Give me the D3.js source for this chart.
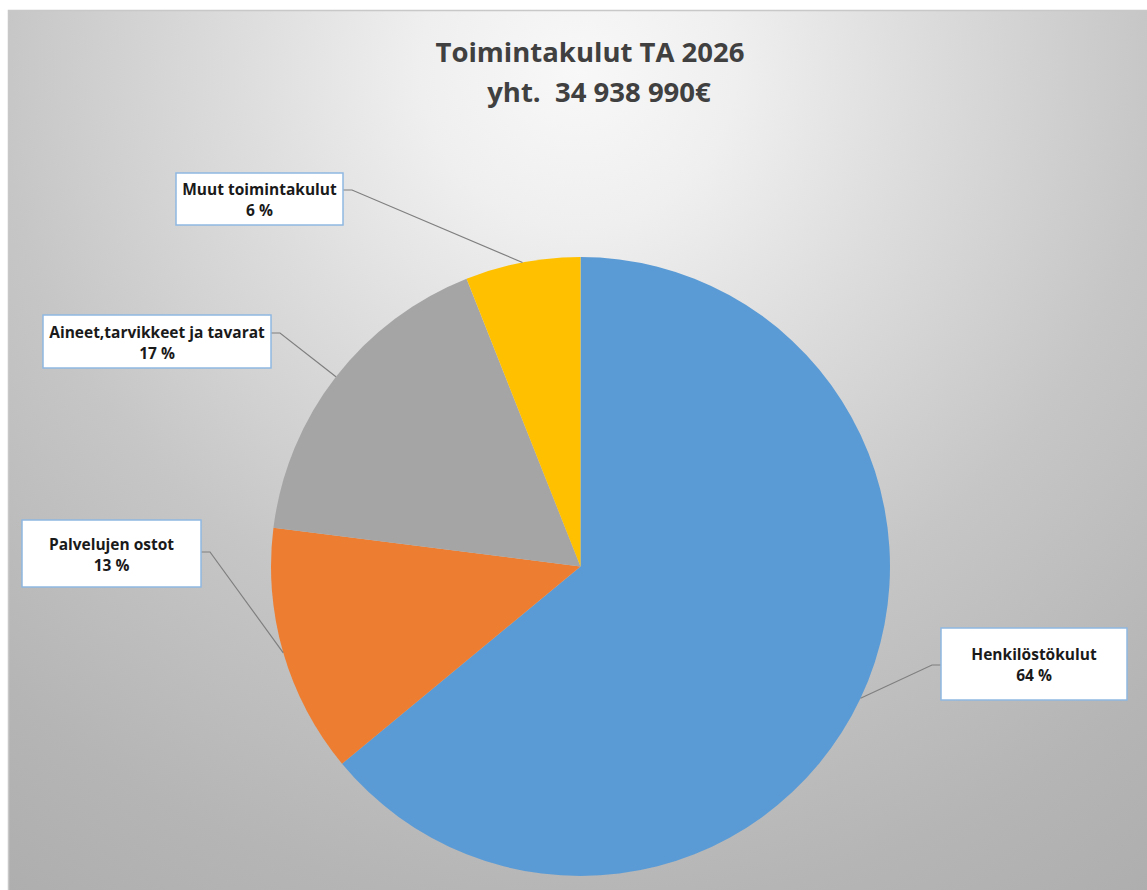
<!DOCTYPE html>
<html>
<head>
<meta charset="utf-8">
<script src="https://cdn.jsdelivr.net/npm/d3@7/dist/d3.min.js"></script>
<style>
  html, body { margin: 0; padding: 0; background: #fff; }
  svg { display: block; }
  .lbl text { font-family: "Open Sans", Lato, sans-serif; font-weight: 700; font-size: 15.5px; fill: #1a1a1a; }
  .title { font-family: "Open Sans", Lato, sans-serif; font-weight: 700; font-size: 27.5px; fill: #404040; white-space: pre; }
</style>
</head>
<body>
<svg width="1147" height="890"></svg>
<script>
// data
const categories = ["Henkilöstökulut", "Palvelujen ostot", "Aineet,tarvikkeet ja tavarat", "Muut toimintakulut"];
const shares = [64, 13, 17, 6];
const colors = ["#5b9bd5", "#ed7d31", "#a5a5a5", "#ffc000"];
const titleLines = ["Toimintakulut TA 2026", "yht.  34 938 990€"];

// label box layout (x, y, w, h, y of connector)
const labelBoxes = [
    { x: 941, y: 628, w: 186, h: 72, ly: 665 },
    { x: 22, y: 520, w: 179, h: 67, ly: 552 },
    { x: 43, y: 315, w: 228, h: 53, ly: 333 },
    { x: 176, y: 173, w: 167, h: 52, ly: 190 }
];

const svg = d3.select("svg"),
    width = +svg.attr("width"),
    height = +svg.attr("height"),
    cx = 580.5, cy = 566.5, radius = 309.5;

const defs = svg.append("defs");
const grad = defs.append("radialGradient")
    .attr("id", "bg")
    .attr("gradientUnits", "userSpaceOnUse")
    .attr("cx", 578).attr("cy", 70)
    .attr("r", 1050);
[[0, "#f8f8f8"], [0.15, "#efefef"], [0.32, "#dddddd"], [0.55, "#c6c6c6"], [0.8, "#b5b5b5"], [1, "#acacac"]]
    .forEach(s => grad.append("stop").attr("offset", s[0]).attr("stop-color", s[1]));

// chart area
svg.append("rect")
    .attr("x", 8.5).attr("y", 10.5)
    .attr("width", width + 10).attr("height", height + 10)
    .attr("fill", "url(#bg)")
    .attr("stroke", "#c8c8c8")
    .attr("stroke-width", 1.5);

// title
const title = svg.append("text")
    .attr("class", "title")
    .attr("text-anchor", "middle");
title.append("tspan").attr("x", 590).attr("y", 62).text(titleLines[0]);
title.append("tspan").attr("x", 599).attr("y", 102).text(titleLines[1]);

const pie = d3.pie().sort(null).value(d => d);
const arcs = pie(shares);
const arc = d3.arc().innerRadius(0).outerRadius(radius);

const g = svg.append("g").attr("transform", `translate(${cx},${cy})`);

g.selectAll("path.slice")
    .data(arcs)
    .enter().append("path")
    .attr("class", "slice")
    .attr("d", arc)
    .attr("fill", (d, i) => colors[i]);

// leader lines
arcs.forEach((d, i) => {
    const a = (d.startAngle + d.endAngle) / 2;
    const px = cx + radius * Math.sin(a),
        py = cy - radius * Math.cos(a);
    const b = labelBoxes[i];
    const right = px > b.x + b.w;
    const edge = right ? b.x + b.w : b.x;
    const knee = right ? edge + 9 : edge - 9;
    svg.append("polyline")
        .attr("points", `${edge},${b.ly} ${knee},${b.ly} ${px},${py}`)
        .attr("fill", "none")
        .attr("stroke", "#7f7f7f")
        .attr("stroke-width", 1.2);
});

// labels
const lbl = svg.selectAll("g.lbl")
    .data(arcs)
    .enter().append("g")
    .attr("class", "lbl");

lbl.append("rect")
    .attr("x", (d, i) => labelBoxes[i].x)
    .attr("y", (d, i) => labelBoxes[i].y)
    .attr("width", (d, i) => labelBoxes[i].w)
    .attr("height", (d, i) => labelBoxes[i].h)
    .attr("fill", "#fff")
    .attr("stroke", "#8fb8e2")
    .attr("stroke-width", 1.5);

lbl.append("text")
    .attr("text-anchor", "middle")
    .each(function(d, i) {
        const b = labelBoxes[i];
        const t = d3.select(this);
        const mid = b.x + b.w / 2, top = b.y + b.h / 2 - 4;
        t.append("tspan").attr("x", mid).attr("y", top).text(categories[i]);
        t.append("tspan").attr("x", mid).attr("y", top + 21).text(shares[i] + " %");
    });
</script>
</body>
</html>
